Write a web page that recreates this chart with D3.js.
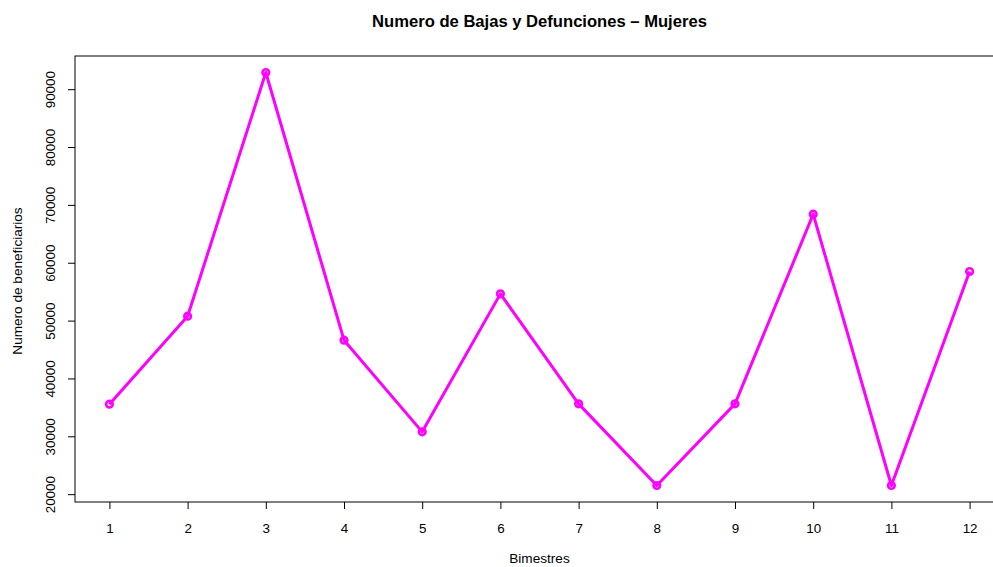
<!DOCTYPE html>
<html>
<head>
<meta charset="utf-8">
<script src="https://cdn.jsdelivr.net/npm/d3@7"></script>
<style>
  html, body { margin: 0; padding: 0; background: #fff; overflow: hidden; }
  svg { display: block; font-family: "Liberation Sans", Arial, Helvetica, sans-serif; }
</style>
</head>
<body>
<svg id="chart" width="993" height="567"></svg>
<script>
// Bimonthly periods and the number of women leaving / deceased in each
const bimestres = [1, 2, 3, 4, 5, 6, 7, 8, 9, 10, 11, 12];
const bajas = [35560, 50760, 92880, 46620, 30770, 54620, 35610, 21500, 35610, 68390, 21500, 58490];
const yTicks = [20000, 30000, 40000, 50000, 60000, 70000, 80000, 90000];

const titleText = "Numero de Bajas y Defunciones \u2013 Mujeres";
const xLabel = "Bimestres";
const yLabel = "Numero de beneficiarios";

const svg = d3.select("#chart");
const plot = { left: 75, right: 1004, top: 56, bottom: 502 };
const tickFont = 13.4, labelFont = 13.6, titleFont = 16.6;

// R-style 4% padding around the data range
const xMin = d3.min(bimestres), xMax = d3.max(bimestres);
const yMin = d3.min(bajas), yMax = d3.max(bajas);
const xPad = (xMax - xMin) * 0.04, yPad = (yMax - yMin) * 0.04;

const x = d3.scaleLinear().domain([xMin - xPad, xMax + xPad]).range([plot.left, plot.right]);
const y = d3.scaleLinear().domain([yMin - yPad, yMax + yPad]).range([plot.bottom, plot.top]);

// Plot box
svg.append("rect")
  .attr("x", plot.left).attr("y", plot.top)
  .attr("width", plot.right - plot.left).attr("height", plot.bottom - plot.top)
  .attr("fill", "none").attr("stroke", "#000").attr("stroke-width", 1);

// X axis
const xAxis = svg.append("g")
  .attr("transform", `translate(0,${plot.bottom})`)
  .call(d3.axisBottom(x).tickValues(bimestres).tickSize(7).tickPadding(14).tickFormat(d3.format("d")));
xAxis.select(".domain").remove();
xAxis.selectAll("text").attr("font-size", tickFont).attr("fill", "#000").attr("font-family", "Liberation Sans, Arial, sans-serif");

// Y axis with rotated labels
const yAxis = svg.append("g")
  .attr("transform", `translate(${plot.left},0)`)
  .call(d3.axisLeft(y).tickValues(yTicks).tickSize(7).tickFormat(d3.format("d")));
yAxis.select(".domain").remove();
yAxis.selectAll("text")
  .attr("font-size", tickFont).attr("fill", "#000").attr("font-family", "Liberation Sans, Arial, sans-serif")
  .attr("x", null).attr("dy", null)
  .attr("text-anchor", "middle")
  .attr("transform", "translate(-25,0) rotate(-90)")
  .attr("dominant-baseline", "central");

// Series line
const line = d3.line().x((d, i) => x(bimestres[i])).y(d => y(d));
svg.append("path")
  .datum(bajas)
  .attr("d", line)
  .attr("fill", "none")
  .attr("stroke", "#ff00ff")
  .attr("stroke-width", 3)
  .attr("stroke-linejoin", "round");

// Open circle markers
svg.append("g").selectAll("circle")
  .data(bajas)
  .join("circle")
  .attr("cx", (d, i) => x(bimestres[i]))
  .attr("cy", d => y(d))
  .attr("r", 3.3)
  .attr("fill", "none")
  .attr("stroke", "#ff00ff")
  .attr("stroke-width", 2.6);

// Title and axis titles
svg.append("text")
  .attr("x", (plot.left + plot.right) / 2).attr("y", 27)
  .attr("text-anchor", "middle")
  .attr("font-size", titleFont).attr("font-weight", "bold").attr("fill", "#000")
  .text(titleText);

svg.append("text")
  .attr("x", (plot.left + plot.right) / 2).attr("y", 563)
  .attr("text-anchor", "middle")
  .attr("font-size", labelFont).attr("fill", "#000")
  .text(xLabel);

svg.append("text")
  .attr("transform", `translate(22,${(plot.top + plot.bottom) / 2 + 2}) rotate(-90)`)
  .attr("text-anchor", "middle")
  .attr("font-size", labelFont).attr("fill", "#000")
  .text(yLabel);
</script>
</body>
</html>
